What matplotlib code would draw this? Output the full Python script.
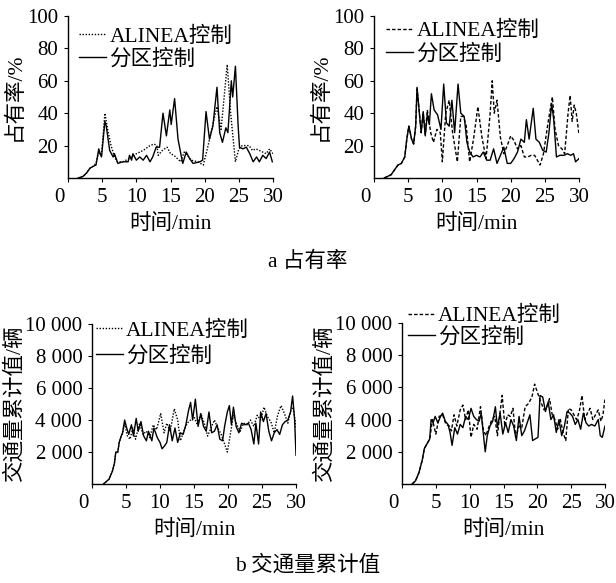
import numpy as np
import matplotlib
matplotlib.use("Agg")
import matplotlib.pyplot as plt
from matplotlib.transforms import ScaledTranslation

plt.rcParams['font.family'] = ['Liberation Serif', 'Noto Sans CJK SC']
plt.rcParams['font.size'] = 15
plt.rcParams['axes.unicode_minus'] = False

# ---- a 占有率 (left: ALINEA dotted) ----
occ1_zone_t = [1.5, 2.2, 2.7, 3.2, 3.6, 4.1, 4.5, 4.7, 4.9, 5.4, 5.6, 6.1, 6.6, 6.8, 7.3, 8.0, 8.8, 9.0,
               9.3, 9.5, 10.0, 10.5, 11.0, 11.5, 12.0, 12.4, 12.9, 13.4, 13.9, 14.4, 14.9, 15.1, 15.6,
               16.1, 16.6, 16.8, 17.3, 17.8, 18.3, 19.3, 19.7, 20.2, 20.7, 21.2, 21.8, 22.2, 22.6, 23.1,
               23.4, 23.9, 24.1, 24.5, 24.9, 25.1, 25.6, 26.1, 26.6, 27.1, 27.6, 28.0, 28.5, 29.0, 29.5, 29.9]
occ1_zone = [0, 1, 3, 6, 7, 8, 18, 15, 13, 35, 32, 17, 13, 15, 9, 10, 10, 14,
             11, 15, 11, 13, 11, 14, 10, 13, 19, 19, 40, 26, 42, 33, 49,
             24, 13, 9, 16, 12, 9, 10, 11, 41, 24, 32, 56, 28, 22, 31,
             28, 60, 50, 69, 32, 19, 18, 19, 15, 10, 13, 10, 14, 12, 16, 10]
occ1_alinea_t = [1.5, 2.2, 2.7, 3.2, 3.6, 4.1, 4.5, 4.9, 5.4, 5.8, 6.3, 6.8, 7.2, 8.0, 9.0, 10.0, 11.0,
                 12.0, 12.6, 13.0, 13.2, 13.8, 14.5, 15.0, 15.5, 16.0, 16.5, 17.0, 17.5, 18.0, 19.0,
                 19.8, 20.5, 21.3, 21.8, 22.4, 23.3, 23.8, 24.5, 25.0, 25.5, 26.5, 27.0, 27.5, 28.0,
                 28.5, 29.0, 29.5, 30.0]
occ1_alinea = [0, 1, 3, 6, 7, 9, 16, 14, 40, 30, 20, 13, 10, 10, 12, 15, 17,
               20, 21, 20, 14, 17, 19, 15, 14, 12, 10, 16, 14, 11, 10,
               8, 20, 35, 44, 30, 70, 40, 10, 18, 20, 20, 17, 18, 17,
               16, 15, 18, 15]

# ---- a 占有率 (right: ALINEA dashed) ----
occ2_zone_t = [1.5, 2.5, 3.0, 3.5, 4.0, 4.5, 4.8, 5.1, 5.5, 5.8, 6.1, 6.3, 6.6, 6.9, 7.2, 7.5, 7.8, 8.1,
               8.4, 8.8, 9.3, 9.8, 10.2, 10.6, 11.0, 11.4, 11.8, 12.3, 12.7, 13.2, 13.6, 14.0, 14.5,
               15.0, 15.5, 16.0, 16.5, 17.0, 17.5, 18.0, 18.5, 19.0, 19.5, 20.0, 20.5, 21.0, 21.5,
               22.0, 22.3, 22.7, 23.3, 23.7, 24.2, 24.7, 25.2, 25.6, 26.0, 26.3, 26.7, 27.2, 27.8,
               28.3, 28.8, 29.2, 29.5, 30.0]
occ2_zone = [0, 2, 5, 8, 9, 13, 24, 32, 24, 21, 32, 56, 42, 28, 41, 26, 39, 33,
             52, 42, 39, 30, 58, 34, 32, 48, 28, 58, 40, 38, 22, 16, 13,
             14, 13, 16, 11, 11, 18, 9, 14, 19, 9, 9, 12, 16, 24,
             22, 36, 24, 43, 24, 22, 17, 16, 28, 46, 36, 13, 14, 14,
             15, 14, 15, 10, 12]
occ2_alinea_t = [1.5, 2.5, 3.0, 3.5, 4.0, 4.5, 4.8, 5.1, 5.5, 5.8, 6.1, 6.3, 6.6, 6.9, 7.2, 7.5, 7.8,
                 8.3, 8.7, 9.2, 9.7, 10.0, 10.5, 11.0, 11.5, 12.2, 12.7, 13.1, 13.5, 14.0, 14.6,
                 15.2, 15.8, 16.4, 17.0, 17.3, 17.6, 18.0, 18.5, 19.0, 19.5, 20.0, 20.5, 21.0,
                 21.5, 22.0, 22.5, 23.0, 23.5, 24.3, 24.8, 25.5, 26.1, 26.5, 27.0, 27.5, 27.9,
                 28.4, 28.7, 29.0, 29.3, 29.6, 30.0]
occ2_alinea = [0, 2, 5, 8, 9, 13, 24, 32, 24, 21, 32, 55, 42, 28, 40, 27, 42,
               28, 22, 30, 28, 10, 40, 48, 28, 10, 38, 38, 32, 10, 25,
               44, 25, 12, 40, 60, 40, 48, 25, 15, 20, 26, 23, 18,
               20, 13, 13, 14, 14, 8, 15, 35, 50, 30, 20, 18, 15,
               40, 51, 35, 45, 40, 27]

# ---- b 交通量累计值 (left: ALINEA dotted) ----
flow1_zone_t = [1.7, 2.5, 3.0, 3.3, 3.5, 3.8, 4.0, 4.3, 4.5, 4.8, 5.1, 5.4, 5.8, 6.1, 6.5, 6.8, 7.2,
                7.6, 8.0, 8.3, 8.8, 9.1, 9.6, 10.0, 10.3, 10.7, 11.0, 11.4, 11.8, 12.2, 12.6, 13.0,
                13.4, 13.8, 14.2, 14.5, 14.8, 15.2, 15.6, 16.0, 16.4, 16.8, 17.2, 17.6, 18.0, 18.4,
                18.8, 19.2, 19.5, 19.9, 20.2, 20.5, 20.8, 21.2, 21.6, 22.0, 22.5, 23.0, 23.4, 23.8,
                24.1, 24.5, 24.8, 25.2, 25.6, 26.0, 26.4, 26.8, 27.2, 27.6, 28.0, 28.4, 28.8, 29.2,
                29.5, 29.8, 30.0]
flow1_zone = [0, 300, 800, 1300, 2000, 2000, 2600, 3000, 3200, 4000, 3500, 3100, 3700, 3000, 4100, 3300, 3900,
              3000, 2700, 3300, 2700, 3500, 2900, 2600, 2200, 2400, 2600, 3700, 2700, 3500, 2600, 3200,
              3100, 3700, 4600, 5100, 4000, 5300, 3600, 4400, 3600, 3300, 4500, 3200, 3300, 3700,
              2800, 2700, 3600, 4500, 4900, 3700, 4800, 3600, 3200, 3800, 3700, 3800, 3400, 2500,
              3800, 2500, 4500, 3900, 4400, 3300, 2700, 3200, 3400, 3100, 3700, 3900, 4000, 4500,
              5500, 4000, 1800]
flow1_alinea_t = [1.7, 2.5, 3.0, 3.3, 3.5, 3.8, 4.0, 4.3, 4.5, 4.8, 5.2, 5.6, 6.0, 6.4, 7.0, 7.5, 8.0,
                  8.5, 9.0, 9.5, 10.1, 10.6, 11.0, 11.5, 12.1, 12.6, 13.0, 13.5, 14.0, 14.5, 15.0,
                  15.5, 16.0, 16.5, 17.0, 17.5, 18.0, 18.5, 19.0, 19.5, 19.9, 20.3, 20.8, 21.3, 21.8,
                  22.3, 22.8, 23.3, 23.8, 24.3, 24.8, 25.3, 25.8, 26.3, 26.8, 27.3, 27.8, 28.3, 28.8,
                  29.3, 29.6, 30.0]
flow1_alinea = [0, 300, 800, 1300, 2000, 2000, 2600, 3000, 3200, 3800, 3000, 2800, 3500, 2800, 3800, 3100, 3300,
                2900, 3700, 3400, 4400, 3200, 3800, 3300, 4700, 4000, 2700, 3300, 3800, 4000, 4200,
                3700, 4400, 3800, 3000, 3500, 4000, 3500, 3100, 2500, 2000, 3000, 4300, 3700, 3300,
                3800, 3700, 4000, 3600, 4300, 4000, 4800, 4200, 3900, 3200, 4300, 4900, 4400, 3800,
                4700, 4800, 3500]

# ---- b 交通量累计值 (right: ALINEA dashed) ----
flow2_zone_t = [1.5, 2.0, 2.5, 3.0, 3.3, 3.7, 4.1, 4.3, 4.6, 4.9, 5.3, 5.7, 6.0, 6.4, 6.8, 7.1, 7.4,
                7.8, 8.2, 8.6, 9.0, 9.4, 9.8, 10.2, 10.6, 11.0, 11.4, 11.7, 12.0, 12.3, 12.6, 13.0,
                13.4, 13.8, 14.1, 14.5, 14.9, 15.3, 15.7, 16.1, 16.5, 16.9, 17.3, 17.7, 18.1, 18.5,
                18.9, 19.3, 19.7, 20.1, 20.4, 20.8, 21.2, 21.6, 22.0, 22.4, 22.8, 23.2, 23.6, 24.0,
                24.4, 24.8, 25.2, 25.6, 26.0, 26.4, 26.8, 27.2, 27.6, 28.0, 28.5, 29.0, 29.3, 29.6, 30.0]
flow2_zone = [0, 200, 700, 1500, 2200, 2500, 2800, 4000, 3800, 4200, 3800, 4200, 4400, 3900, 3700, 3200, 2400,
              3500, 3100, 3700, 3500, 4200, 4000, 4700, 4200, 4000, 3900, 4400, 3200, 2000, 3000, 3600,
              3900, 4800, 3500, 4400, 3100, 3800, 3200, 4000, 3600, 2700, 4200, 3000, 3300, 3800,
              4300, 2700, 2800, 2900, 5500, 5400, 4500, 5100, 4000, 4300, 3200, 4000, 3000, 3600,
              4500, 4400, 4200, 3700, 4000, 3400, 4400, 3800, 3600, 3700, 3600, 4000, 3000, 2900, 3600]
flow2_alinea_t = [1.5, 2.0, 2.5, 3.0, 3.3, 3.7, 4.1, 4.5, 5.0, 5.5, 6.0, 6.5, 7.0, 7.3, 7.7, 8.1, 8.6,
                  9.0, 9.4, 9.8, 10.2, 10.6, 11.1, 11.6, 12.0, 12.4, 12.8, 13.3, 13.7, 14.1, 14.5,
                  14.8, 15.2, 15.6, 16.0, 16.4, 16.8, 17.3, 17.7, 18.2, 18.7, 19.2, 19.6, 20.0, 20.5,
                  21.0, 21.4, 21.8, 22.2, 22.6, 23.0, 23.4, 23.8, 24.2, 24.6, 25.0, 25.4, 25.8, 26.2,
                  26.6, 27.0, 27.4, 27.8, 28.2, 28.6, 29.0, 29.4, 29.7, 30.0]
flow2_alinea = [0, 200, 700, 1500, 2200, 2500, 2800, 4000, 3100, 4200, 4300, 3700, 3600, 3300, 4300, 3600, 4600,
                4900, 4000, 4600, 2900, 3700, 3400, 4800, 3400, 3000, 3500, 4000, 4200, 3000, 4500,
                5500, 3600, 4300, 4200, 4700, 2900, 3600, 3500, 4800, 5000, 5400, 6200, 5700, 5100,
                4600, 4800, 5300, 4300, 4000, 3400, 4000, 3200, 2700, 4700, 4600, 4300, 4000, 4500,
                5500, 4000, 4400, 4700, 4000, 4300, 4600, 3900, 4300, 5300]

x_ticks = [0, 5, 10, 15, 20, 25, 30]
occ_ticks = [20, 40, 60, 80, 100]
flow_ticks = [2000, 4000, 6000, 8000, 10000]
flow_labels = ['2 000', '4 000', '6 000', '8 000', '10 000']

fig = plt.figure(figsize=(6.16, 5.83), dpi=100)
W, H = 616, 583
FS = 15.5


def make_axes(l, r, t, b):
    return fig.add_axes([l / W, (H - b) / H, (r - l) / W, (b - t) / H])


def style(ax):
    for s in ['top', 'right']:
        ax.spines[s].set_visible(False)
    for s in ['left', 'bottom']:
        ax.spines[s].set_linewidth(1.0)
    ax.set_xlim(0, 30)
    ax.set_xticks(x_ticks)
    ax.tick_params(direction='out', length=3, width=0.8, labelsize=15, pad=4)
    ax.set_xlabel('时间/min', fontsize=FS, labelpad=5)
    # the origin label sits a bit left of the axis in the original
    lab = ax.get_xticklabels()[0]
    lab.set_transform(lab.get_transform() + ScaledTranslation(-6 / 72, 0, fig.dpi_scale_trans))


alinea_dot = dict(color='black', lw=1.0, linestyle=(0, (1, 1.2)))
alinea_dash = dict(color='black', lw=1.0, linestyle=(0, (2.5, 1.5)))
zone_line = dict(color='black', lw=1.0)

panels = [
    (make_axes(68, 273, 16, 178), occ1_alinea_t, occ1_alinea, occ1_zone_t, occ1_zone, alinea_dot, 'occ', (0.055, 0.935), 0.1),
    (make_axes(374, 579, 16, 178), occ2_alinea_t, occ2_alinea, occ2_zone_t, occ2_zone, alinea_dash, 'occ', (0.06, 0.97), 0.15),
    (make_axes(92, 296, 324, 484), flow1_alinea_t, flow1_alinea, flow1_zone_t, flow1_zone, alinea_dot, 'flow', (0.02, 1.02), 0.25),
    (make_axes(402, 605, 323, 484), flow2_alinea_t, flow2_alinea, flow2_zone_t, flow2_zone, alinea_dash, 'flow', (0.03, 1.105), 0.05),
]

for ax, at, av, zt, zv, ast, kind, anchor, lsp in panels:
    ax.plot(at, av, label='ALINEA控制', **ast)
    ax.plot(zt, zv, label='分区控制', **zone_line)
    style(ax)
    if kind == 'occ':
        ax.set_ylim(0, 100)
        ax.set_yticks(occ_ticks)
        ax.set_ylabel('占有率/%', fontsize=FS, labelpad=2)
    else:
        ax.set_ylim(0, 10000)
        ax.set_yticks(flow_ticks)
        ax.set_yticklabels(flow_labels)
        ax.set_ylabel('交通量累计值/辆', fontsize=FS, labelpad=0)
    ax.legend(loc='upper left', bbox_to_anchor=anchor, frameon=False, fontsize=FS,
              handlelength=1.25, handletextpad=0.15, labelspacing=lsp,
              borderpad=0, borderaxespad=0)

fig.text(308 / W, 1 - 262 / H, 'a 占有率', ha='center', va='center', fontsize=FS)
fig.text(308 / W, 1 - 565 / H, 'b 交通量累计值', ha='center', va='center', fontsize=FS)

fig.savefig('out.png', dpi=100)
